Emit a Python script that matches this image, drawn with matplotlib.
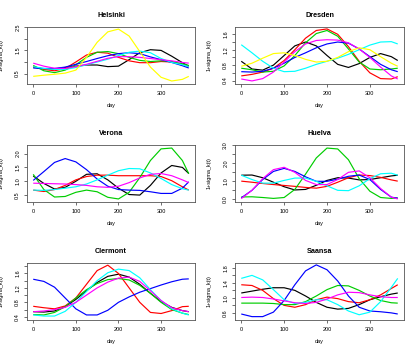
import matplotlib
matplotlib.use("Agg")
import matplotlib.pyplot as plt

plt.rcParams['font.family'] = ['Liberation Sans', 'DejaVu Sans']

days = [0, 25, 50, 75, 100, 125, 150, 175, 200, 225, 250, 275, 300, 325, 350, 365]

# ---------------- Helsinki ----------------
hel_black   = [0.78, 0.70, 0.70, 0.76, 0.82, 0.87, 0.87, 0.80, 0.82, 1.10, 1.40, 1.53, 1.50, 1.25, 0.97, 0.82]
hel_red     = [0.80, 0.68, 0.62, 0.72, 1.00, 1.30, 1.42, 1.38, 1.20, 1.05, 0.97, 0.97, 1.02, 1.00, 0.90, 0.80]
hel_green   = [0.85, 0.62, 0.54, 0.65, 0.88, 1.20, 1.42, 1.45, 1.36, 1.20, 1.07, 1.02, 1.05, 1.02, 0.92, 0.85]
hel_blue    = [0.74, 0.72, 0.72, 0.78, 0.90, 1.02, 1.15, 1.27, 1.36, 1.40, 1.36, 1.22, 1.10, 0.98, 0.84, 0.74]
hel_cyan    = [0.80, 0.72, 0.68, 0.68, 0.76, 0.88, 1.00, 1.12, 1.28, 1.42, 1.47, 1.40, 1.15, 0.98, 0.88, 0.80]
hel_magenta = [0.95, 0.82, 0.73, 0.72, 0.80, 0.90, 1.03, 1.16, 1.23, 1.23, 1.20, 1.15, 1.10, 1.05, 0.98, 0.95]
hel_yellow  = [0.38, 0.43, 0.47, 0.52, 0.65, 1.20, 1.85, 2.30, 2.42, 2.12, 1.45, 0.78, 0.34, 0.18, 0.25, 0.38]

# ---------------- Dresden ----------------
dre_black   = [0.90, 0.70, 0.67, 0.80, 1.05, 1.30, 1.40, 1.30, 1.05, 0.82, 0.74, 0.84, 1.00, 1.10, 1.02, 0.92]
dre_red     = [0.52, 0.56, 0.62, 0.72, 0.92, 1.20, 1.50, 1.70, 1.74, 1.60, 1.28, 0.90, 0.60, 0.45, 0.44, 0.50]
dre_green   = [0.72, 0.68, 0.62, 0.64, 0.78, 1.05, 1.38, 1.62, 1.70, 1.55, 1.22, 0.88, 0.70, 0.68, 0.70, 0.72]
dre_blue    = [0.63, 0.62, 0.64, 0.72, 0.85, 1.00, 1.12, 1.25, 1.35, 1.40, 1.37, 1.22, 1.02, 0.82, 0.68, 0.63]
dre_cyan    = [1.33, 1.12, 0.90, 0.72, 0.63, 0.64, 0.72, 0.82, 0.90, 0.98, 1.08, 1.20, 1.32, 1.40, 1.41, 1.35]
dre_magenta = [0.44, 0.39, 0.45, 0.62, 0.88, 1.15, 1.35, 1.44, 1.46, 1.45, 1.38, 1.22, 1.00, 0.75, 0.52, 0.44]
dre_yellow  = [0.77, 0.85, 0.98, 1.10, 1.12, 1.05, 0.95, 0.88, 0.90, 1.00, 1.15, 1.25, 1.20, 1.02, 0.85, 0.77]

# ---------------- Verona ----------------
ver_black   = [1.19, 0.92, 0.72, 0.78, 1.00, 1.25, 1.27, 1.05, 0.75, 0.52, 0.50, 0.85, 1.30, 1.57, 1.50, 1.28]
ver_red     = [0.68, 0.63, 0.70, 0.85, 1.05, 1.17, 1.22, 1.22, 1.20, 1.20, 1.20, 1.20, 1.17, 1.02, 0.80, 0.68]
ver_green   = [1.25, 0.70, 0.43, 0.45, 0.60, 0.68, 0.62, 0.42, 0.36, 0.60, 1.13, 1.75, 2.17, 2.20, 1.75, 1.27]
ver_blue    = [1.03, 1.35, 1.68, 1.82, 1.70, 1.42, 1.08, 0.82, 0.70, 0.68, 0.67, 0.62, 0.56, 0.56, 0.75, 0.98]
ver_cyan    = [0.68, 0.67, 0.70, 0.75, 0.80, 0.90, 1.05, 1.22, 1.38, 1.46, 1.45, 1.30, 1.10, 0.88, 0.73, 0.68]
ver_magenta = [0.93, 0.92, 0.91, 0.90, 0.88, 0.85, 0.80, 0.78, 0.82, 0.95, 1.12, 1.25, 1.28, 1.20, 1.05, 0.95]

# ---------------- Huelva ----------------
hue_black   = [1.34, 1.35, 1.20, 0.95, 0.70, 0.52, 0.55, 0.78, 1.05, 1.20, 1.18, 1.08, 1.10, 1.20, 1.30, 1.34]
hue_red     = [1.01, 0.95, 0.88, 0.82, 0.77, 0.72, 0.66, 0.62, 0.72, 0.95, 1.20, 1.35, 1.32, 1.22, 1.08, 1.01]
hue_green   = [0.13, 0.14, 0.10, 0.05, 0.10, 0.55, 1.40, 2.30, 2.85, 2.80, 2.20, 1.15, 0.45, 0.10, 0.05, 0.08]
hue_blue    = [0.08, 0.50, 1.10, 1.55, 1.72, 1.55, 1.25, 1.00, 1.00, 1.12, 1.28, 1.35, 1.10, 0.55, 0.12, 0.06]
hue_cyan    = [1.34, 1.10, 0.90, 0.90, 1.05, 1.18, 1.18, 1.00, 0.75, 0.50, 0.48, 0.75, 1.15, 1.42, 1.45, 1.34]
hue_magenta = [0.04, 0.50, 1.15, 1.65, 1.78, 1.50, 1.05, 0.82, 0.82, 1.10, 1.50, 1.58, 1.20, 0.60, 0.12, 0.02]

# ---------------- Clermont ----------------
cle_black   = [0.54, 0.53, 0.56, 0.68, 0.88, 1.12, 1.35, 1.52, 1.58, 1.50, 1.30, 1.05, 0.82, 0.66, 0.57, 0.54]
cle_red     = [0.69, 0.65, 0.62, 0.70, 0.92, 1.30, 1.68, 1.83, 1.60, 1.20, 0.80, 0.52, 0.49, 0.57, 0.68, 0.69]
cle_green   = [0.46, 0.45, 0.52, 0.68, 0.92, 1.15, 1.32, 1.43, 1.46, 1.42, 1.27, 1.05, 0.80, 0.60, 0.50, 0.46]
cle_blue    = [1.44, 1.38, 1.22, 0.92, 0.62, 0.45, 0.45, 0.58, 0.80, 0.95, 1.08, 1.18, 1.28, 1.37, 1.44, 1.45]
cle_cyan    = [0.45, 0.42, 0.42, 0.55, 0.80, 1.10, 1.40, 1.62, 1.72, 1.68, 1.48, 1.15, 0.85, 0.62, 0.50, 0.45]
cle_magenta = [0.54, 0.56, 0.60, 0.66, 0.80, 1.00, 1.20, 1.36, 1.47, 1.50, 1.38, 1.12, 0.85, 0.65, 0.57, 0.54]

# ---------------- Saansa ----------------
saa_black   = [1.13, 1.18, 1.23, 1.27, 1.27, 1.20, 1.05, 0.88, 0.75, 0.70, 0.72, 0.82, 0.95, 1.03, 1.10, 1.13]
saa_red     = [1.35, 1.33, 1.20, 0.98, 0.80, 0.75, 0.82, 0.95, 1.02, 0.98, 0.90, 0.87, 0.95, 1.08, 1.25, 1.35]
saa_green   = [0.86, 0.86, 0.86, 0.85, 0.82, 0.82, 0.90, 1.05, 1.22, 1.33, 1.32, 1.20, 1.05, 0.93, 0.87, 0.86]
saa_blue    = [0.57, 0.50, 0.50, 0.62, 0.93, 1.35, 1.72, 1.88, 1.75, 1.45, 1.05, 0.75, 0.65, 0.63, 0.60, 0.57]
saa_cyan    = [1.52, 1.60, 1.48, 1.22, 0.95, 0.85, 0.88, 0.95, 0.95, 0.82, 0.65, 0.55, 0.62, 0.90, 1.28, 1.52]
saa_magenta = [1.01, 1.02, 1.01, 0.97, 0.92, 0.87, 0.85, 0.88, 0.97, 1.08, 1.15, 1.14, 1.08, 1.03, 1.01, 1.01]

titles = ["Helsinki", "Dresden", "Verona", "Huelva", "Clermont", "Saansa"]
series = [
    [hel_black, hel_red, hel_green, hel_blue, hel_cyan, hel_magenta, hel_yellow],
    [dre_black, dre_red, dre_green, dre_blue, dre_cyan, dre_magenta, dre_yellow],
    [ver_black, ver_red, ver_green, ver_blue, ver_cyan, ver_magenta],
    [hue_black, hue_red, hue_green, hue_blue, hue_cyan, hue_magenta],
    [cle_black, cle_red, cle_green, cle_blue, cle_cyan, cle_magenta],
    [saa_black, saa_red, saa_green, saa_blue, saa_cyan, saa_magenta],
]
ylims = [(0.05, 2.51), (0.31, 1.79), (0.25, 2.31), (-0.15, 3.02), (0.31, 1.89), (0.41, 1.93)]
yticks = [
    [0.5, 1.0, 1.5, 2.0, 2.5],
    [0.4, 0.6, 0.8, 1.0, 1.2, 1.4, 1.6],
    [0.5, 1.0, 1.5, 2.0],
    [0.0, 0.5, 1.0, 1.5, 2.0, 2.5, 3.0],
    [0.4, 0.6, 0.8, 1.0, 1.2, 1.4, 1.6, 1.8],
    [0.6, 0.8, 1.0, 1.2, 1.4, 1.6, 1.8],
]
ylabels_shown = [
    ["0.5", "", "1.5", "", "2.5"],
    ["0.4", "", "0.8", "", "1.2", "", "1.6"],
    ["0.5", "1.0", "1.5", "2.0"],
    ["0.0", "", "1.0", "", "2.0", "", "3.0"],
    ["0.4", "", "0.8", "", "1.2", "", "1.6", ""],
    ["0.6", "", "1.0", "", "1.4", "", "1.8"],
]
xticks = [0, 100, 200, 300]
colors = ["#000000", "#FF0000", "#00CD00", "#0000FF", "#00FFFF", "#FF00FF", "#FFFF00"]

W, H = 418, 354
fig = plt.figure(figsize=(W / 100, H / 100), dpi=100)

col_x = [(27, 195), (235, 404)]
row_y = [(27, 84), (145, 202), (263, 320)]

for i in range(6):
    r, c = divmod(i, 2)
    x0, x1 = col_x[c]
    y0, y1 = row_y[r]
    ax = fig.add_axes([x0 / W, 1 - y1 / H, (x1 - x0) / W, (y1 - y0) / H])
    for s, col in zip(series[i], colors):
        ax.plot(days, s, color=col, lw=0.85, solid_capstyle='butt')
    ax.set_xlim(-14.6, 379.6)
    ax.set_ylim(*ylims[i])
    ax.set_xticks(xticks)
    ax.set_xticklabels([str(t) for t in xticks])
    ax.set_yticks(yticks[i])
    ax.set_yticklabels(ylabels_shown[i], rotation=90, va='center')
    ax.tick_params(axis='both', length=2.4, width=0.5, labelsize=4, pad=2.5, color='#333333')
    for sp in ax.spines.values():
        sp.set_linewidth(0.6)
        sp.set_color('#555555')
    ax.set_title(titles[i], fontsize=5.2, fontweight='bold', pad=7.5)
    ax.set_xlabel("day", fontsize=4)
    ax.xaxis.set_label_coords(0.5, -0.33)
    ax.set_ylabel("1+sigma_k(t)", fontsize=4)
    ax.yaxis.set_label_coords(-0.14, 0.5)

fig.savefig("out.png", dpi=100)
